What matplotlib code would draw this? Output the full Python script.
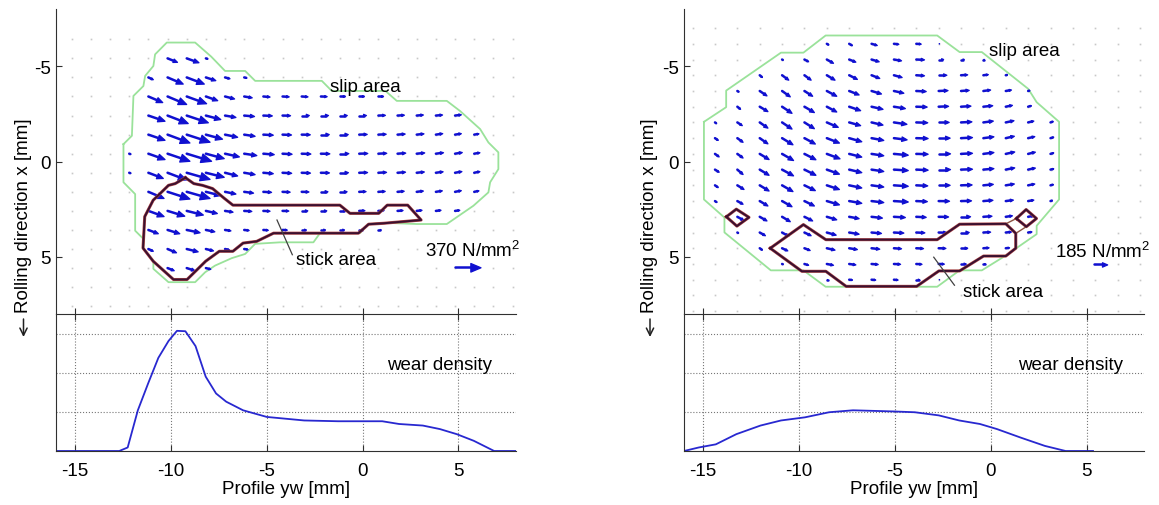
import numpy as np
import matplotlib
matplotlib.use("Agg")
import matplotlib.pyplot as plt
from matplotlib.collections import LineCollection, PolyCollection
from matplotlib.patches import FancyArrowPatch

plt.rcParams['font.family'] = ['Liberation Sans', 'DejaVu Sans']
plt.rcParams['axes.unicode_minus'] = False
plt.rcParams['mathtext.fontset'] = 'custom'
plt.rcParams['mathtext.rm'] = 'Liberation Sans'
FS = 13.5

# ---------------- data ----------------
xticks = [-15, -10, -5, 0, 5]

# grid of the traction field (lateral yw, rolling x), in mm
left_cols = np.arange(24) * 1.0 - 15.18
left_rows = np.arange(15) * 1.0 - 6.41
right_cols = np.arange(21) * 1.167 - 15.55
right_rows = np.arange(19) * 0.825 - 7.0

# traction arrows: (row, first column, u list, v list)
left_field = [
    (1, 5, [0.52, 0.64, 0.10], [0.21, 0.23, 0.03]),
    (2, 4, [0.26, 0.82, 0.92, 0.52, 0.26, 0.14], [0.12, 0.35, 0.35, 0.17, 0.07, 0.03]),
    (3, 4, [0.75, 1.0, 1.04, 0.62, 0.5, 0.42, 0.35, 0.35, 0.33, 0.33, 0.28, 0.27, 0.27],
           [0.32, 0.42, 0.38, 0.22, 0.13, 0.07, 0.03, 0.02, 0.02, 0.01, 0, 0, 0]),
    (4, 4, [0.87, 1.08, 1.13, 0.78, 0.57, 0.54, 0.47, 0.42, 0.4, 0.4, 0.38, 0.38, 0.37, 0.36, 0.35, 0.35, 0.33],
           [0.3, 0.42, 0.38, 0.21, 0.1, 0.05, 0.02, 0.01, 0, 0, 0, 0, -0.01, -0.02, -0.03, -0.03, -0.04]),
    (5, 4, [0.87, 1.17, 1.22, 0.87, 0.66, 0.57, 0.52, 0.47, 0.45, 0.44, 0.43, 0.42, 0.41, 0.4, 0.38, 0.36, 0.33, 0.25],
           [0.3, 0.44, 0.4, 0.24, 0.14, 0.09, 0.03, 0.02, 0.01, 0, 0, -0.01, -0.02, -0.03, -0.04, -0.05, -0.05, -0.04]),
    (6, 3, [0.08, 0.87, 1.17, 1.3, 0.96, 0.75, 0.66, 0.57, 0.5, 0.48, 0.47, 0.46, 0.45, 0.44, 0.43, 0.42, 0.4, 0.38, 0.3],
           [0.03, 0.31, 0.4, 0.4, 0.26, 0.17, 0.1, 0.05, 0.03, 0.02, 0.01, 0, -0.01, -0.02, -0.03, -0.04, -0.05, -0.06, -0.05]),
    (7, 3, [0.08, 0.78, 0.99, 1.22, 0.96, 0.66, 0.57, 0.52, 0.48, 0.46, 0.45, 0.44, 0.44, 0.43, 0.42, 0.4, 0.38, 0.36, 0.3],
           [0.03, 0.3, 0.38, 0.35, 0.24, 0.17, 0.1, 0.05, 0.03, 0.02, 0.01, 0, -0.01, -0.02, -0.03, -0.04, -0.05, -0.06, -0.06]),
    (8, 4, [0.82, 1.17, 1.22, 0.78, 0.57, 0.49, 0.43, 0.4, 0.38, 0.37, 0.37, 0.36, 0.36, 0.35, 0.35, 0.34, 0.33, 0.25],
           [0.35, 0.38, 0.35, 0.2, 0.12, 0.07, 0.03, 0.02, 0.01, 0, 0, -0.01, -0.02, -0.03, -0.04, -0.05, -0.06, -0.05]),
    (9, 4, [0.82, 0.9, 0.87, 0.6, 0.42, 0.4, 0.35, 0.33, 0.32, 0.31, 0.3, 0.3, 0.3, 0.29, 0.28, 0.27, 0.25],
           [0.3, 0.28, 0.22, 0.14, 0.07, 0.03, 0.02, 0.01, 0, 0, 0, -0.01, -0.02, -0.02, -0.03, -0.03, -0.03]),
    (10, 4, [0.52, 0.64, 0.7, 0.47, 0.31, 0.26, 0.26, 0.25, 0.24, 0.24, 0.23, 0.2, 0.15],
            [0.2, 0.2, 0.15, 0.1, 0.05, 0.03, 0.02, 0.01, 0, 0, 0, 0, 0]),
    (11, 4, [0.26, 0.47, 0.6, 0.4, 0.23, 0.2], [0.12, 0.2, 0.15, 0.1, 0.05, 0.03]),
    (12, 5, [0.35, 0.43, 0.26], [0.14, 0.14, 0.07]),
]

right_field = [
    (1, 6, [0.1, 0.17, 0.3, 0.26, 0.26, 0.05], [0.06, 0.1, 0.09, 0.03, 0.02, 0]),
    (2, 4, [0.05, 0.22, 0.35, 0.35, 0.4, 0.4, 0.43, 0.26, 0.17, 0.05],
           [0.03, 0.12, 0.2, 0.14, 0.12, 0.07, 0.02, 0, 0, 0]),
    (3, 3, [0.14, 0.35, 0.35, 0.43, 0.43, 0.43, 0.43, 0.43, 0.43, 0.35, 0.26, 0.08],
           [0.12, 0.26, 0.26, 0.26, 0.22, 0.17, 0.12, 0.03, 0, -0.02, -0.03, -0.02]),
    (4, 2, [0.08, 0.38, 0.43, 0.43, 0.52, 0.52, 0.52, 0.52, 0.52, 0.49, 0.43, 0.38, 0.3, 0.08],
           [0.05, 0.26, 0.31, 0.28, 0.28, 0.21, 0.16, 0.12, 0.03, -0.02, -0.03, -0.05, -0.05, -0.02]),
    (5, 2, [0.17, 0.43, 0.52, 0.52, 0.52, 0.6, 0.6, 0.6, 0.57, 0.52, 0.52, 0.49, 0.35, 0.17],
           [0.14, 0.26, 0.35, 0.31, 0.28, 0.21, 0.14, 0.1, 0.02, -0.02, -0.03, -0.05, -0.07, -0.05]),
    (6, 1, [0.08, 0.26, 0.43, 0.52, 0.52, 0.6, 0.6, 0.6, 0.68, 0.6, 0.55, 0.57, 0.52, 0.43, 0.3, 0.14],
           [0.06, 0.17, 0.3, 0.35, 0.33, 0.26, 0.17, 0.14, 0.1, 0.02, 0, -0.03, -0.07, -0.09, -0.07, -0.05]),
    (7, 1, [0.17, 0.3, 0.43, 0.57, 0.57, 0.66, 0.66, 0.64, 0.69, 0.62, 0.6, 0.6, 0.55, 0.45, 0.35, 0.17],
           [0.12, 0.22, 0.3, 0.35, 0.31, 0.26, 0.19, 0.12, 0.09, 0.02, 0, -0.03, -0.07, -0.1, -0.08, -0.05]),
    (8, 1, [0.22, 0.3, 0.49, 0.6, 0.6, 0.69, 0.66, 0.64, 0.75, 0.62, 0.62, 0.6, 0.55, 0.47, 0.38, 0.17],
           [0.16, 0.22, 0.3, 0.35, 0.31, 0.26, 0.17, 0.1, 0.07, 0.02, 0, -0.03, -0.07, -0.1, -0.09, -0.05]),
    (9, 1, [0.22, 0.3, 0.49, 0.6, 0.6, 0.66, 0.66, 0.64, 0.75, 0.62, 0.62, 0.6, 0.55, 0.47, 0.38, 0.17],
           [0.14, 0.26, 0.3, 0.33, 0.3, 0.24, 0.16, 0.1, 0.05, 0.03, 0, -0.02, -0.05, -0.09, -0.08, -0.04]),
    (10, 1, [0.17, 0.35, 0.49, 0.57, 0.57, 0.66, 0.66, 0.64, 0.75, 0.6, 0.6, 0.58, 0.52, 0.45, 0.35, 0.15],
            [0.12, 0.22, 0.3, 0.33, 0.28, 0.22, 0.14, 0.09, 0.05, 0.03, 0, -0.02, -0.05, -0.07, -0.07, -0.04]),
    (11, 1, [0.1, 0.3, 0.43, 0.52, 0.52, 0.66, 0.66, 0.64, 0.75, 0.58, 0.57, 0.55, 0.5, 0.4, 0.3, 0.1],
            [0.07, 0.17, 0.26, 0.3, 0.26, 0.2, 0.12, 0.08, 0.05, 0.03, 0.01, -0.01, -0.04, -0.05, -0.05, -0.03]),
    (12, 2, [0.35, 0.38, 0.43, 0.43, 0.52, 0.52, 0.57, 0.6, 0.52, 0.52, 0.5, 0.45, 0.35, 0.3],
            [0.2, 0.22, 0.26, 0.22, 0.16, 0.1, 0.07, 0.04, 0.03, 0.01, 0, -0.03, -0.05, -0.05]),
    (13, 2, [0.05, 0.3, 0.35, 0.35, 0.49, 0.52, 0.52, 0.52, 0.45, 0.43, 0.43, 0.38, 0.3, 0.2],
            [0.03, 0.17, 0.2, 0.17, 0.14, 0.09, 0.05, 0.03, 0.02, 0.01, 0, -0.02, -0.03, -0.03]),
    (14, 3, [0.14, 0.3, 0.3, 0.43, 0.43, 0.43, 0.4, 0.38, 0.38, 0.35, 0.3, 0.2],
            [0.1, 0.14, 0.12, 0.1, 0.07, 0.05, 0.03, 0.02, 0.01, 0, -0.02, -0.02]),
    (15, 4, [0.05, 0.22, 0.35, 0.35, 0.35, 0.35, 0.3, 0.3, 0.26, 0.1],
            [0.02, 0.07, 0.07, 0.05, 0.03, 0.02, 0.02, 0.01, 0, 0]),
    (16, 6, [0.05, 0.17, 0.22, 0.22, 0.17, 0.05], [0, 0.02, 0.02, 0.02, 0, 0]),
]

# contact patch (slip area) outlines
left_slip = [(-12.48, -0.91), (-12.04, -1.35), (-11.96, -3.44), (-11.44, -3.96), (-11.35, -4.49),
             (-10.92, -5.01), (-10.83, -5.62), (-10.22, -6.24), (-8.74, -6.24), (-7.9, -5.5),
             (-7.18, -4.75), (-6.13, -4.75), (-5.61, -4.23), (-2.13, -4.23), (-1.61, -3.70),
             (1.19, -3.70), (1.78, -3.18), (4.39, -3.18), (5.08, -2.65), (6.13, -1.70), (6.56, -1.0),
             (7.08, -0.48), (7.08, 0.40), (6.65, 1.09), (6.56, 1.62), (5.78, 2.32), (4.39, 3.28),
             (2.82, 3.28), (1.26, 3.22), (0.30, 3.28), (-0.13, 3.75), (-2.22, 3.75), (-2.57, 4.24),
             (-4.31, 4.24), (-5.61, 4.32), (-6.13, 4.85), (-6.83, 5.07), (-7.70, 5.46), (-8.22, 5.81),
             (-8.74, 6.33), (-10.13, 6.33), (-10.92, 5.63), (-10.92, 5.20), (-11.44, 4.59),
             (-11.44, 4.06), (-11.87, 3.63), (-11.87, 1.71), (-12.48, 1.09), (-12.48, -0.91)]
right_slip = [(-14.96, -2.08), (-13.8, -2.85), (-13.8, -3.72), (-10.94, -5.71), (-9.77, -5.71),
              (-8.61, -6.61), (-2.79, -6.61), (-1.62, -5.74), (-0.46, -5.74), (1.96, -3.81),
              (2.40, -3.11), (3.57, -2.08), (3.57, 1.99), (2.40, 3.37), (2.40, 3.81), (0.79, 4.93),
              (-0.46, 5.71), (-1.62, 5.71), (-2.79, 6.57), (-8.61, 6.57), (-9.77, 5.71),
              (-11.47, 5.71), (-13.89, 3.72), (-13.89, 2.94), (-14.96, 1.99), (-14.96, -2.08)]

# stick area outlines
left_stick = [(-9.25, 0.85), (-9.78, 1.16), (-10.13, 1.25), (-10.66, 1.77), (-10.93, 2.03),
              (-11.37, 2.89), (-11.46, 4.54), (-10.93, 5.23), (-9.87, 6.19), (-9.16, 6.19),
              (-8.19, 5.23), (-7.48, 4.71), (-6.77, 4.71), (-6.24, 4.28), (-5.53, 4.19),
              (-4.65, 3.76), (-0.22, 3.76), (0.31, 3.29), (1.11, 3.24), (3.05, 3.07), (2.35, 2.29),
              (1.28, 2.29), (0.84, 2.72), (-0.66, 2.72), (-1.19, 2.29), (-6.77, 2.29), (-7.21, 1.94),
              (-7.83, 1.42), (-8.36, 1.25), (-8.81, 1.16), (-9.25, 0.85)]
right_stick = [(-11.5, 4.55), (-9.77, 3.31), (-8.6, 4.1), (-2.79, 4.1), (-1.62, 3.29), (0.79, 3.27),
               (1.31, 3.77), (1.31, 4.55), (0.79, 4.96), (-0.37, 4.96), (-1.62, 5.74), (-2.7, 5.74),
               (-3.86, 6.55), (-7.54, 6.55), (-8.6, 5.76), (-9.85, 5.76), (-11.5, 4.55)]
right_stick_l = [(-13.79, 2.9), (-13.27, 2.5), (-12.61, 2.93), (-13.24, 3.39), (-13.79, 2.9)]
right_stick_r = [(1.34, 2.99), (1.85, 2.52), (2.39, 2.99), (1.86, 3.42), (1.34, 2.99)]
right_stick_links = [[(0.79, 3.27), (1.34, 2.99)], [(1.31, 3.77), (1.86, 3.42)]]

# wear density
left_wear_x = [-16, -12.7, -12.26, -11.73, -11.19, -10.66, -10.13, -9.69, -9.25, -8.72, -8.19,
               -7.65, -7.12, -6.24, -5.0, -3.05, -1.28, 1.02, 1.9, 3.14, 4.03, 4.91, 5.8, 6.86, 8]
left_wear_y = [0, 0, 0.09, 1.04, 1.73, 2.38, 2.81, 3.07, 3.06, 2.68, 1.90,
               1.47, 1.26, 1.04, 0.87, 0.78, 0.76, 0.76, 0.69, 0.65, 0.56, 0.43, 0.26, 0, 0]
right_wear_x = [-16, -15.23, -14.34, -13.27, -12.01, -10.94, -9.69, -8.43, -7.18, -5.03, -3.96,
                -2.71, -1.64, -0.56, 0.33, 1.58, 2.83, 3.91, 5.34]
right_wear_y = [0, 0.09, 0.17, 0.43, 0.65, 0.78, 0.86, 0.99, 1.04, 1.01, 0.99,
                0.91, 0.78, 0.69, 0.56, 0.34, 0.13, 0, 0]

ARROW = '#1010d0'
SLIP = '#9ae29a'
STICK = '#3a1030'


def arrows(ax, xs, ys, us, vs):
    # MATLAB-like quiver: head size proportional to arrow length
    xs, ys, us, vs = map(np.asarray, (xs, ys, us, vs))
    tip = np.c_[xs + us, ys + vs]
    base = np.c_[xs + 0.6 * us, ys + 0.6 * vs]
    nrm = np.c_[-vs, us] * 0.17
    shafts = np.stack([np.c_[xs, ys], base + 0.1 * np.c_[us, vs]], axis=1)
    heads = np.stack([tip, base + nrm, base - nrm], axis=1)
    ax.add_collection(LineCollection(shafts, colors=ARROW, linewidths=1.8, zorder=3,
                                     capstyle='round'))
    ax.add_collection(PolyCollection(heads, facecolors=ARROW, edgecolors=ARROW,
                                     linewidths=0.9, zorder=3))


def draw_panel(left_px, cols, rows, field, slip, sticks, links, ref_val, ref_pos, ref_len,
               slip_txt, stick_txt, leader, ref_txt, wear_x, wear_y, wear_txt):
    W, H = 1159, 506
    axu = fig.add_axes([left_px / W, 1 - 315 / H, 460 / W, 305 / H])
    axl = fig.add_axes([left_px / W, 1 - 452 / H, 460 / W, 137 / H])

    # upper: traction field
    gx, gy = np.meshgrid(cols, rows)
    axu.plot(gx.ravel(), gy.ravel(), 's', ms=1.2, mec='none', color='#c8c8c8', zorder=1)
    xs, ys, us, vs = [], [], [], []
    for r, k0, u, v in field:
        xs += list(cols[k0:k0 + len(u)])
        ys += [rows[r]] * len(u)
        us += u
        vs += v
    arrows(axu, xs, ys, us, vs)
    arrows(axu, [ref_pos[0]], [ref_pos[1]], [ref_len], [0])
    sx, sy = zip(*slip)
    axu.plot(sx, sy, color=SLIP, lw=1.3, zorder=2)
    for poly in sticks:
        px, py = zip(*poly)
        axu.plot(px, py, color='#b04848', lw=2.2, zorder=4)
        axu.plot(px, py, color=STICK, lw=1.4, zorder=5)
    for seg in links:
        px, py = zip(*seg)
        axu.plot(px, py, color='#8a5040', lw=1.0, zorder=4)
    axu.plot([leader[0][0], leader[1][0]], [leader[0][1], leader[1][1]], color='#404040', lw=0.9, zorder=6)
    axu.text(slip_txt[0], slip_txt[1], 'slip area', fontsize=FS, va='center', ha='left', zorder=7)
    axu.text(stick_txt[0], stick_txt[1], 'stick area', fontsize=FS, va='center', ha='left', zorder=7)
    axu.text(ref_txt[0], ref_txt[1], ref_val + r' N/mm$^\mathregular{2}$', fontsize=FS,
             va='center', ha='left', zorder=7, clip_on=False)

    axu.set_xlim(-16, 8)
    axu.set_ylim(8, -8)
    axu.set_xticks(xticks)
    axu.set_yticks([-5, 0, 5])
    axu.set_xticklabels([])
    for s in ['top', 'right', 'bottom']:
        axu.spines[s].set_visible(False)
    axu.spines['left'].set_color('#303030')
    axu.tick_params(direction='in', length=4, labelsize=FS, colors='#303030', labelcolor='black')
    axu.set_yticklabels(['-5', '0', '5'])

    # lower: wear density
    axl.plot(wear_x, wear_y, color='#2828d0', lw=1.3)
    axl.set_xlim(-16, 8)
    axl.set_ylim(0, 3.5)
    axl.set_xticks(xticks)
    axl.set_xticklabels([str(t) for t in xticks])
    axl.set_yticks([1, 2, 3])
    axl.set_yticklabels([])
    axl.grid(True, ls=':', color='#777777', lw=0.8)
    axl.spines['right'].set_visible(False)
    for s in ['top', 'left', 'bottom']:
        axl.spines[s].set_color('#303030')
    axl.tick_params(axis='x', direction='in', length=4, top=True, labelsize=FS, pad=8, colors='#303030',
                    labelcolor='black')
    axl.tick_params(axis='y', length=0)
    axl.set_xlabel('Profile yw [mm]', fontsize=FS, labelpad=1)
    axl.text(wear_txt[0], wear_txt[1], 'wear density', fontsize=FS, va='center', ha='left')
    return axu, axl


fig = plt.figure(figsize=(11.59, 5.06), dpi=100)

draw_panel(56, left_cols, left_rows, left_field, left_slip, [left_stick], [], '370',
           (4.82, 5.55), 1.33, (-1.73, -3.95), (-3.5, 5.15), [(-4.47, 3.07), (-3.67, 4.89)],
           (3.23, 4.63), left_wear_x, left_wear_y, (1.28, 2.21))
draw_panel(684, right_cols, right_rows, right_field, right_slip,
           [right_stick, right_stick_l, right_stick_r], right_stick_links, '185',
           (5.4, 5.4), 0.68, (-0.1, -5.8), (-1.45, 6.83), [(-2.97, 5.02), (-1.89, 6.49)],
           (3.35, 4.67), right_wear_x, right_wear_y, (1.42, 2.21))

for xp in [23.5, 650]:
    fig.text(xp / 1159, 1 - 216 / 506, 'Rolling direction x [mm]', rotation=90,
             ha='center', va='center', fontsize=FS)
    fig.add_artist(FancyArrowPatch((xp / 1159, 1 - 320 / 506), (xp / 1159, 1 - 338 / 506),
                                   transform=fig.transFigure, arrowstyle='->',
                                   shrinkA=0, shrinkB=0, mutation_scale=13,
                                   lw=1.1, color='#202020'))

fig.savefig('out.png', dpi=100)
